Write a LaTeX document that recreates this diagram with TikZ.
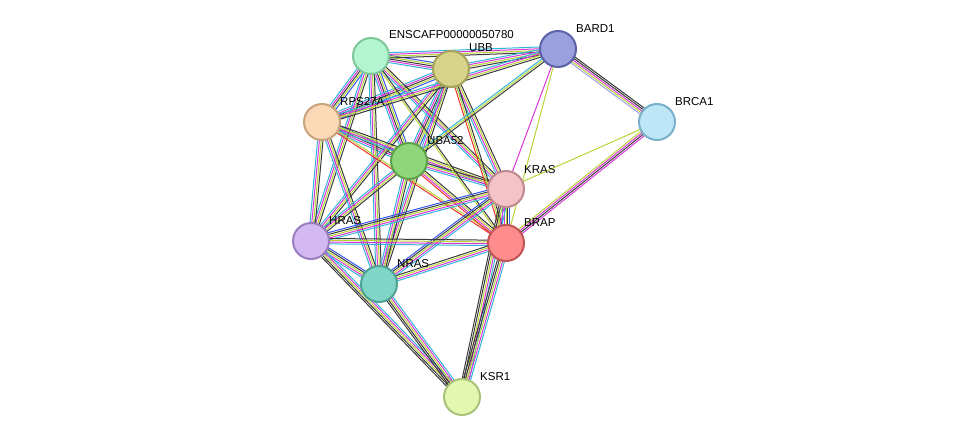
\documentclass[tikz,border=0pt]{standalone}
\usepackage{fontspec}
\setmainfont{Liberation Sans}
\usetikzlibrary{calc}
\definecolor{cy}{HTML}{33B5D9}\definecolor{mg}{HTML}{D936D9}\definecolor{bk}{HTML}{3A3A3A}
\definecolor{yg}{HTML}{B8D435}\definecolor{bl}{HTML}{3355EE}\definecolor{rd}{HTML}{EE3333}\definecolor{vi}{HTML}{A0A0F0}
\newcommand\edg[4]{\foreach \c [count=\i, evaluate=\i as \o using (\i-(#3+1)/2)*1.8] in {#4}
 {\draw[color=\c, line width=1pt] ($(#1)!\o pt!90:(#2)$) -- ($(#2)!\o pt!-90:(#1)$);}}
\tikzset{prot/.style={circle, minimum size=36pt, line width=2pt, inner sep=0pt},
 lab/.style={font=\fontsize{11.5pt}{12pt}\selectfont, anchor=south west, inner sep=0pt}}
\begin{document}
\begin{tikzpicture}[x=1pt,y=-1pt]
\useasboundingbox (0,0) rectangle (976,443);
\coordinate (E) at (371,56);\coordinate (U) at (451,69);\coordinate (BD) at (558,49);
\coordinate (BC) at (657,122);\coordinate (R) at (322,122);\coordinate (A) at (409,161);
\coordinate (K) at (506,189);\coordinate (BP) at (506,243);\coordinate (H) at (311,241);
\coordinate (N) at (379,284);\coordinate (S) at (462,397);
% core
\edg{E}{U}{5}{cy,mg,bk,yg,bl}\edg{E}{R}{5}{cy,mg,bk,yg,bl}\edg{E}{A}{5}{cy,mg,bk,yg,bl}
\edg{U}{R}{5}{cy,mg,bk,yg,bl}\edg{U}{A}{5}{cy,mg,bk,yg,bl}\edg{R}{A}{5}{cy,mg,bk,yg,bl}
% core to ras
\foreach \a in {E,U,R,A}{\foreach \b in {K,H,N}{\edg{\a}{\b}{4}{cy,mg,yg,bk}}}
\edg{E}{BP}{2}{yg,bk}\edg{U}{BP}{3}{rd,yg,bk}\edg{R}{BP}{2}{rd,yg}\edg{A}{BP}{4}{rd,mg,yg,bk}
% BARD1
\edg{BD}{E}{4}{cy,mg,yg,bk}\edg{BD}{U}{4}{cy,mg,yg,bk}\edg{BD}{R}{4}{cy,mg,yg,bk}\edg{BD}{A}{3}{cy,yg,bk}
\edg{BD}{BC}{5}{vi,yg,mg,bk,bk}\edg{BD}{K}{1}{mg}\edg{BD}{BP}{1}{yg}
\edg{BC}{BP}{4}{yg,mg,bk,mg}\edg{BC}{K}{1}{yg}
% ras-ras
\edg{K}{BP}{5}{cy,mg,yg,bk,bl}\edg{H}{N}{5}{cy,mg,yg,bk,bl}\edg{H}{K}{5}{cy,mg,yg,bk,bl}
\edg{N}{K}{5}{cy,mg,yg,bk,bl}\edg{H}{BP}{4}{cy,mg,yg,bk}\edg{N}{BP}{4}{cy,mg,yg,bk}
\edg{S}{H}{5}{cy,mg,yg,bk,bk}\edg{S}{N}{5}{cy,mg,yg,bk,bk}\edg{S}{K}{5}{cy,mg,yg,bk,bk}\edg{S}{BP}{5}{cy,mg,yg,bk,bk}
% nodes
\node[prot, fill={rgb,255:red,179;green,245;blue,208}, draw={rgb,255:red,127;green,199;blue,155}] (nE) at (E) {};
\node[prot, fill={rgb,255:red,215;green,211;blue,138}, draw={rgb,255:red,168;green,163;blue,90}] (nU) at (U) {};
\node[prot, fill={rgb,255:red,154;green,160;blue,221}, draw={rgb,255:red,90;green,98;blue,168}] (nBD) at (BD) {};
\node[prot, fill={rgb,255:red,189;green,230;blue,247}, draw={rgb,255:red,122;green,176;blue,204}] (nBC) at (BC) {};
\node[prot, fill={rgb,255:red,252;green,217;blue,182}, draw={rgb,255:red,201;green,163;blue,124}] (nR) at (R) {};
\node[prot, fill={rgb,255:red,143;green,214;blue,122}, draw={rgb,255:red,94;green,162;blue,74}] (nA) at (A) {};
\node[prot, fill={rgb,255:red,244;green,195;blue,200}, draw={rgb,255:red,192;green,138;blue,144}] (nK) at (K) {};
\node[prot, fill={rgb,255:red,255;green,140;blue,140}, draw={rgb,255:red,192;green,85;blue,85}] (nBP) at (BP) {};
\node[prot, fill={rgb,255:red,211;green,184;blue,242}, draw={rgb,255:red,154;green,127;blue,192}] (nH) at (H) {};
\node[prot, fill={rgb,255:red,127;green,214;blue,200}, draw={rgb,255:red,79;green,162;blue,148}] (nN) at (N) {};
\node[prot, fill={rgb,255:red,227;green,247;blue,176}, draw={rgb,255:red,169;green,195;blue,122}] (nS) at (S) {};
\node[lab] (lE) at (389,39) {ENSCAFP00000050780};
\node[lab] (lU) at (469,52) {UBB};
\node[lab] (lBD) at (576,33) {BARD1};
\node[lab] (lBC) at (675,106) {BRCA1};
\node[lab] (lR) at (340,106) {RPS27A};
\node[lab] (lA) at (427,145) {UBA52};
\node[lab] (lK) at (524,174) {KRAS};
\node[lab] (lBP) at (524,227) {BRAP};
\node[lab] (lH) at (329,225) {HRAS};
\node[lab] (lN) at (397,268) {NRAS};
\node[lab] (lS) at (480,381) {KSR1};
\end{tikzpicture}
\end{document}
